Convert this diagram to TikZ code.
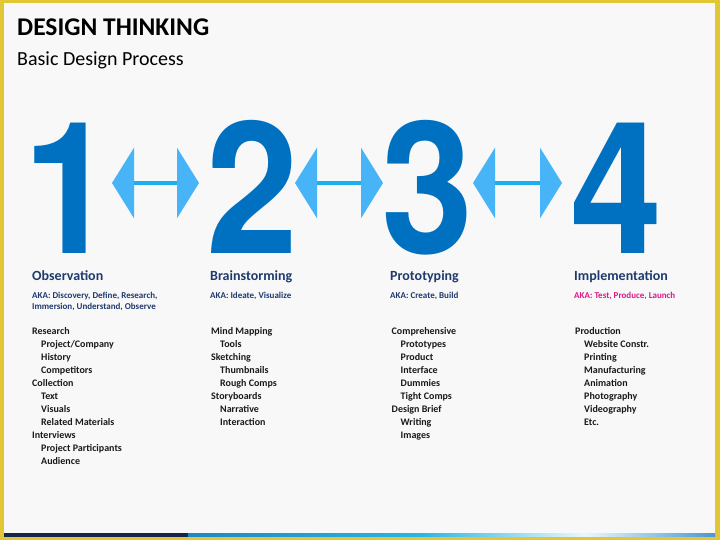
\documentclass[tikz,border=0pt]{standalone}
\usepackage{fontspec}
\setmainfont{Carlito}
\newfontfamily\numfont{TeX Gyre Heros}
\usetikzlibrary{arrows.meta}
\definecolor{frame}{HTML}{E3C636}
\definecolor{bg}{HTML}{F8F8F8}
\definecolor{numblue}{HTML}{0070C0}
\definecolor{arrowhead}{HTML}{48B4F8}
\definecolor{arrowshaft}{HTML}{1CAEEF}
\definecolor{navy}{HTML}{1F3A6E}
\definecolor{akapink}{HTML}{E0168A}
\definecolor{bardark}{HTML}{14244A}
\definecolor{barblue}{HTML}{1E88C0}
\definecolor{barcyan}{HTML}{2AB5E5}
\definecolor{barlight}{HTML}{EAF7FC}
\definecolor{barend}{HTML}{4A98D0}
\definecolor{itemtext}{HTML}{1A1A1A}
\newcommand\stagedigit[1]{\scalebox{0.9}[1]{#1}}
\begin{document}
\begin{tikzpicture}[x=1bp,y=-1bp,
  txt/.style={inner sep=0pt, anchor=base west},
  title/.style={txt, font=\bfseries\fontsize{25.5bp}{30bp}\selectfont, text=black},
  subtitle/.style={txt, font=\fontsize{20bp}{24bp}\selectfont, text=black},
  digit/.style={inner sep=0pt, anchor=base, text=numblue, text depth=0pt,
    font=\numfont\bfseries\fontsize{184bp}{184bp}\selectfont},
  stage/.style={txt, font=\bfseries\fontsize{14bp}{17bp}\selectfont, text=navy},
  aka/.style={txt, font=\bfseries\fontsize{9bp}{11bp}\selectfont, text=navy},
  item/.style={txt, font=\bfseries\fontsize{10bp}{12bp}\selectfont, text=itemtext},
  link/.style={draw=arrowshaft, line width=4bp,
    arrows={Triangle[length=22bp,width=70bp,color=arrowhead]-Triangle[length=22bp,width=70bp,color=arrowhead]}}
]
\useasboundingbox (0,0) rectangle (720,540);
% frame and background
\fill[frame] (0,0) rectangle (720,540);
\fill[bg] (3.5,3) rectangle (715,533.3);
% bottom bar
\fill[bardark] (3.5,533.3) rectangle (188,536.7);
\shade[left color=barblue, right color=barcyan] (188,533.3) rectangle (420,536.7);
\shade[left color=barcyan, right color=barlight] (420,533.3) rectangle (585,536.7);
\shade[left color=barlight, right color=barend] (585,533.3) rectangle (715,536.7);

% titles
\node[title] (title) at (17,36) {DESIGN THINKING};
\node[subtitle] (subtitle) at (17,66) {Basic Design Process};

% digits
\node[digit] (d1) at (70,254) {\stagedigit{1}};
\node[digit] (d2) at (252.5,254) {\stagedigit{2}};
\node[digit] (d3) at (428,254) {\stagedigit{3}};
\node[digit] (d4) at (616.5,254) {\stagedigit{4}};

% double arrows
\coordinate (a1l) at (112,183);
\coordinate (a1r) at (199,183);
\coordinate (a2l) at (295,183);
\coordinate (a2r) at (383,183);
\coordinate (a3l) at (473,183);
\coordinate (a3r) at (562,183);
\draw[link] (a1l) -- (a1r);
\draw[link] (a2l) -- (a2r);
\draw[link] (a3l) -- (a3r);

% stage headings
\node[stage] (h1) at (32,281) {Observation};
\node[stage] (h2) at (210,281) {Brainstorming};
\node[stage] (h3) at (390,281) {Prototyping};
\node[stage] (h4) at (574,281) {Implementation};

% AKA lines
\node[aka] (k1a) at (32,298.5) {AKA: Discovery, Define, Research,};
\node[aka] (k1b) at (32,309.5) {Immersion, Understand, Observe};
\node[aka] (k2) at (210,298.5) {AKA: Ideate, Visualize};
\node[aka] (k3) at (390,298.5) {AKA: Create, Build};
\node[aka, text=akapink] (k4) at (574,298.5) {AKA: Test, Produce, Launch};

% item lists
\foreach \ind/\t [count=\i from 0] in {0/Research, 1/{Project/Company}, 1/History, 1/Competitors,
   0/Collection, 1/Text, 1/Visuals, 1/Related Materials, 0/Interviews, 1/Project Participants, 1/Audience}
  \node[item] (c1-\i) at (32+9*\ind, 334+13*\i) {\t};
\foreach \ind/\t [count=\i from 0] in {0/Mind Mapping, 1/Tools, 0/Sketching, 1/Thumbnails,
   1/Rough Comps, 0/Storyboards, 1/Narrative, 1/Interaction}
  \node[item] (c2-\i) at (211+9*\ind, 334+13*\i) {\t};
\foreach \ind/\t [count=\i from 0] in {0/Comprehensive, 1/Prototypes, 1/Product, 1/Interface,
   1/Dummies, 1/Tight Comps, 0/Design Brief, 1/Writing, 1/Images}
  \node[item] (c3-\i) at (391.5+9*\ind, 334+13*\i) {\t};
\foreach \ind/\t [count=\i from 0] in {0/Production, 1/Website Constr., 1/Printing, 1/Manufacturing,
   1/Animation, 1/Photography, 1/Videography, 1/Etc.}
  \node[item] (c4-\i) at (575+9*\ind, 334+13*\i) {\t};
\end{tikzpicture}
\end{document}
